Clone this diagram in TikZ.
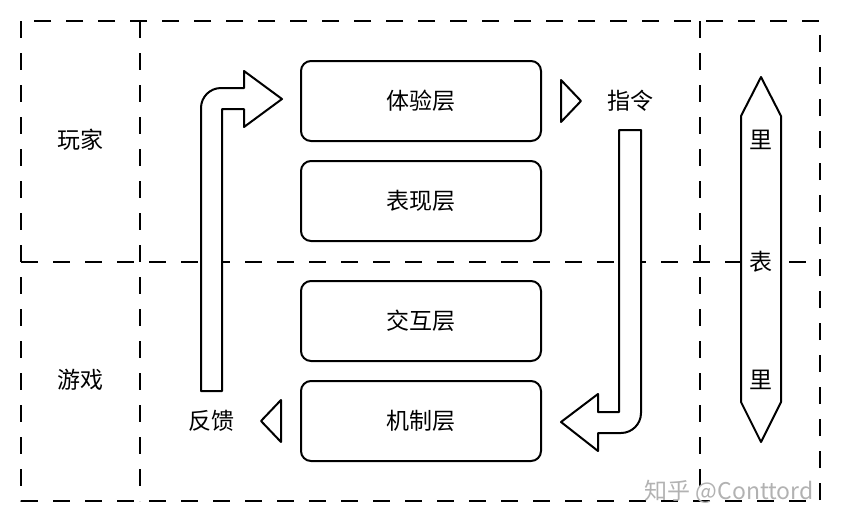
\documentclass[tikz,border=0pt]{standalone}
\usepackage{fontspec}
\setmainfont{Noto Sans CJK SC}

\begin{document}
\begin{tikzpicture}[x=1pt,y=-1pt,line join=round,
    layer/.style={draw,line width=2pt,rounded corners=10pt,minimum width=240pt,minimum height=80pt,font=\fontsize{23}{25}\selectfont},
    lbl/.style={font=\fontsize{23}{25}\selectfont},
    frame/.style={line width=2pt,dash pattern=on 17pt off 15pt},
    blockarrow/.style={draw,line width=2pt,fill=white}]
    \useasboundingbox (0,0) rectangle (844,528);
    \coordinate (tl) at (21,21);
    \coordinate (br) at (820,501);
    \draw[frame] (tl) rectangle (br);
    \draw[frame] (140,21) -- (140,501);
    \draw[frame] (700,21) -- (700,501);
    \draw[frame] (21,262) -- (820,262);
    \node[lbl] (player) at (80,140) {玩家};
    \node[lbl] (game) at (80,380) {游戏};
    \node[layer] (exp) at (421,101) {体验层};
    \node[layer] (pres) at (421,201) {表现层};
    \node[layer] (inter) at (421,321) {交互层};
    \node[layer] (mech) at (421,421) {机制层};
    \node[lbl] (cmd) at (630,101) {指令};
    \node[lbl] (fb) at (211,421) {反馈};
    % feedback arrow
    \draw[blockarrow] (201,391) -- (201,108) arc (180:270:20) -- (244,88) -- (244,71) -- (282,99)
        -- (244,127) -- (244,109) -- (222,109) -- (222,391) -- cycle;
    % command arrow
    \draw[blockarrow] (619,130) -- (641,130) -- (641,413) arc (0:90:20) -- (598,433) -- (598,451)
        -- (561,422) -- (598,394) -- (598,412) -- (619,412) -- cycle;
    \draw[blockarrow] (561,80) -- (581,101) -- (561,122) -- cycle;
    \draw[blockarrow] (281,400) -- (261,421) -- (281,442) -- cycle;
    % surface / inner
    \draw[blockarrow] (761,77) -- (781,116) -- (781,402) -- (761,442) -- (741,402) -- (741,116) -- cycle;
    \node[lbl] (in1) at (761,140) {里};
    \node[lbl] (surf) at (761,262) {表};
    \node[lbl] (in2) at (761,380) {里};
    \node[font=\fontsize{23}{25}\selectfont,text=black!30] (mark) at (729,492) {知乎 @Conttord};
\end{tikzpicture}
\end{document}
